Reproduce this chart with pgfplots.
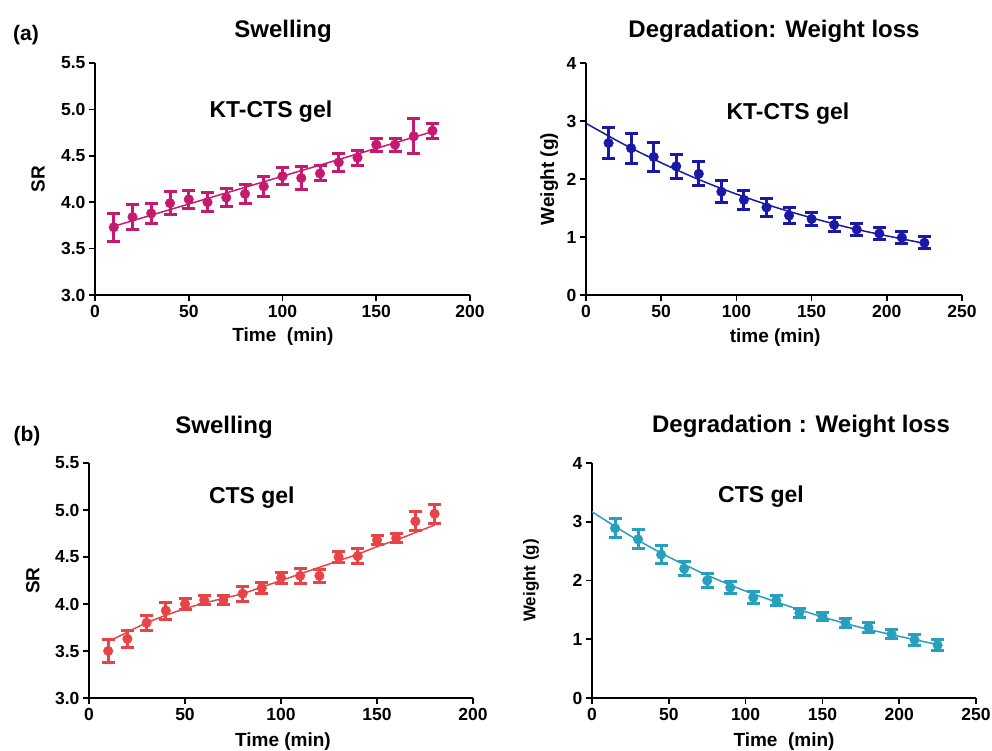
\documentclass[border=0pt]{standalone}
\usepackage{fontspec}
\setmainfont{Liberation Sans}
\usepackage{pgfplots}
\pgfplotsset{compat=1.18}
\definecolor{cMag}{RGB}{198,26,110}
\definecolor{cBlue}{RGB}{25,25,165}
\definecolor{cRed}{RGB}{232,68,72}
\definecolor{cTeal}{RGB}{38,160,188}
\pgfplotsset{
  gp/.style={
    scale only axis, clip=false,
    axis lines=left,
    axis line style={-, line width=1.8pt, black},
    every tick/.style={line width=1.6pt, black},
    major tick length=6pt,
    tick align=outside,
    tick label style={font=\fontsize{17.5}{17.5}\selectfont\bfseries},
    /pgf/number format/assume math mode=true,
    label style={font=\fontsize{19}{19}\selectfont\bfseries},
    xticklabel style={yshift=-1pt},
  },
  dat/.style={only marks, mark=*, mark size=4.8pt,
    error bars/y dir=both, error bars/y explicit,
    error bars/error bar style={line width=3pt},
    error bars/error mark options={rotate=90, mark size=6.5pt, line width=3pt}},
  fit/.style={no marks, line width=1.5pt},
}
\begin{document}
\begin{tikzpicture}
\path[use as bounding box] (0pt,0pt) rectangle (992pt,751pt);
\tikzset{ttl/.style={font=\fontsize{24}{24}\selectfont\bfseries},
         gel/.style={font=\fontsize{23}{23}\selectfont\bfseries},
         pl/.style={font=\fontsize{21}{21}\selectfont\bfseries}}
\node[pl] at (26pt,716pt) {(a)};
\node[ttl] at (283pt,720pt) {Swelling};
\node[ttl] at (774pt,720pt) {Degradation: Weight loss};
\node[pl] at (27pt,315pt) {(b)};
\node[ttl] at (224pt,324pt) {Swelling};
\node[ttl] at (801pt,325pt) {Degradation : Weight loss};

% Panel (a) left
\begin{axis}[gp, at={(95pt,456pt)}, anchor=south west, width=375pt, height=232pt,
  xmin=0, xmax=200, ymin=3, ymax=5.5, xtick={0,50,100,150,200}, ytick={3,3.5,4,4.5,5,5.5},
  yticklabel style={/pgf/number format/.cd, fixed, fixed zerofill, precision=1},
  xlabel={Time~~(min)}, ylabel={SR},
  xlabel style={at={(axis description cs:0.501,-0.181)}, anchor=center},
  ylabel style={at={(axis description cs:-0.152,0.5)}, anchor=center}]
\addplot[cMag, fit] coordinates {(10,3.74) (180,4.76)};
\addplot[cMag, dat] table[x=x, y=y, y error=e] {
x y e
10 3.73 0.15
20 3.84 0.13
30 3.88 0.11
40 3.99 0.12
50 4.03 0.10
60 4.00 0.10
70 4.05 0.10
80 4.09 0.10
90 4.17 0.11
100 4.28 0.09
110 4.26 0.12
120 4.31 0.08
130 4.43 0.10
140 4.48 0.08
150 4.62 0.07
160 4.62 0.07
170 4.71 0.19
180 4.77 0.08
};
\node[gel] at (rel axis cs:0.469,0.789) {KT-CTS gel};
\end{axis}

% Panel (a) right
\begin{axis}[gp, at={(586pt,456pt)}, anchor=south west, width=376pt, height=232pt,
  xmin=0, xmax=250, ymin=0, ymax=4, xtick={0,50,100,150,200,250}, ytick={0,1,2,3,4},
  xlabel={time (min)}, ylabel={Weight (g)},
  xlabel style={at={(axis description cs:0.503,-0.185)}, anchor=center},
  ylabel style={at={(axis description cs:-0.098,0.5)}, anchor=center}]
\addplot[cBlue, fit, smooth] coordinates {(0,2.96) (25,2.60) (50,2.28) (75,1.99) (100,1.74) (125,1.52) (150,1.33) (175,1.16) (200,1.02) (225,0.89)};
\addplot[cBlue, dat] table[x=x, y=y, y error=e] {
x y e
15 2.62 0.26
30 2.53 0.26
45 2.38 0.25
60 2.22 0.21
75 2.09 0.21
90 1.78 0.19
105 1.64 0.17
120 1.51 0.15
135 1.37 0.13
150 1.31 0.12
165 1.21 0.12
180 1.13 0.10
195 1.06 0.10
210 0.99 0.10
225 0.90 0.10
};
\node[gel] at (rel axis cs:0.537,0.784) {KT-CTS gel};
\end{axis}

% Panel (b) left
\begin{axis}[gp, at={(89pt,53pt)}, anchor=south west, width=384pt, height=235pt,
  xmin=0, xmax=200, ymin=3, ymax=5.5, xtick={0,50,100,150,200}, ytick={3,3.5,4,4.5,5,5.5},
  yticklabel style={/pgf/number format/.cd, fixed, fixed zerofill, precision=1},
  xlabel={Time (min)}, ylabel={SR},
  xlabel style={at={(axis description cs:0.505,-0.187)}, anchor=center},
  ylabel style={at={(axis description cs:-0.146,0.5)}, anchor=center}]
\addplot[cRed, fit, smooth] coordinates {(10,3.60) (20,3.70) (30,3.80) (40,3.88) (50,3.95) (60,4.01) (70,4.06) (80,4.11) (90,4.18) (100,4.25) (110,4.32) (120,4.39) (130,4.46) (140,4.53) (150,4.61) (160,4.68) (170,4.76) (180,4.84)};
\addplot[cRed, dat] table[x=x, y=y, y error=e] {
x y e
10 3.50 0.12
20 3.63 0.09
30 3.80 0.08
40 3.93 0.09
50 4.00 0.06
60 4.04 0.05
70 4.04 0.05
80 4.11 0.08
90 4.17 0.06
100 4.28 0.06
110 4.30 0.08
120 4.30 0.07
130 4.50 0.06
140 4.51 0.08
150 4.68 0.05
160 4.70 0.05
170 4.88 0.10
180 4.96 0.10
};
\node[gel] at (rel axis cs:0.424,0.851) {CTS gel};
\end{axis}

% Panel (b) right
\begin{axis}[gp, at={(592pt,53pt)}, anchor=south west, width=384pt, height=235pt,
  xmin=0, xmax=250, ymin=0, ymax=4, xtick={0,50,100,150,200,250}, ytick={0,1,2,3,4},
  xlabel={Time~~(min)}, ylabel={Weight (g)},
  xlabel style={at={(axis description cs:0.5,-0.187)}, anchor=center},
  ylabel style={at={(axis description cs:-0.159,0.5)}, anchor=center, font=\fontsize{17}{17}\selectfont\bfseries}]
\addplot[cTeal, fit, smooth] coordinates {(0,3.17) (25,2.76) (50,2.40) (75,2.09) (100,1.82) (125,1.59) (150,1.38) (175,1.20) (200,1.05) (225,0.91)};
\addplot[cTeal, dat] table[x=x, y=y, y error=e] {
x y e
15 2.89 0.16
30 2.70 0.16
45 2.44 0.15
60 2.20 0.12
75 2.00 0.12
90 1.88 0.10
105 1.71 0.10
120 1.66 0.08
135 1.45 0.08
150 1.39 0.07
165 1.28 0.08
180 1.20 0.08
195 1.09 0.08
210 0.99 0.09
225 0.90 0.10
};
\node[gel] at (rel axis cs:0.44,0.855) {CTS gel};
\end{axis}
\end{tikzpicture}
\end{document}
